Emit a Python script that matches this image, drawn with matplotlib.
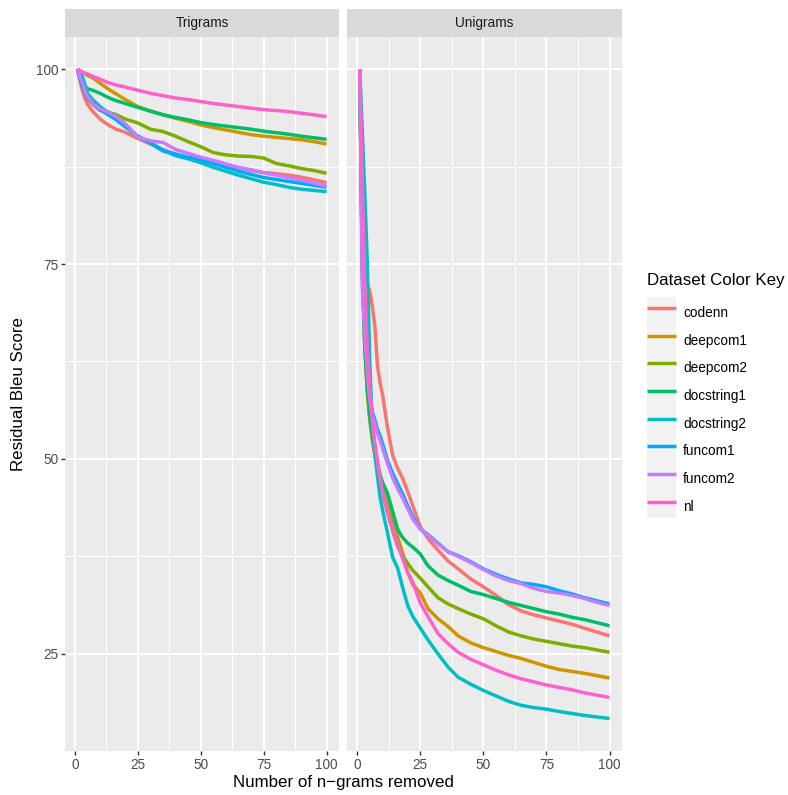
import matplotlib.pyplot as plt
from matplotlib.patches import Rectangle
from matplotlib.ticker import MultipleLocator

plt.rcParams['font.family'] = ['Liberation Sans', 'DejaVu Sans']

# Dataset names and ggplot default hue colours
datasets = ["codenn", "deepcom1", "deepcom2", "docstring1",
            "docstring2", "funcom1", "funcom2", "nl"]
colors = ["#F8766D", "#CD9600", "#7CAE00", "#00BE67",
          "#00BFC4", "#00A9FF", "#C77CFF", "#FF61CC"]

# Trigrams panel
tri_x = [1, 2, 3, 4, 5, 7, 10, 13, 16, 20, 25, 30, 35, 40, 45, 50,
         55, 60, 65, 70, 75, 80, 85, 90, 95, 100]
tri_codenn = [100, 98.5, 97.2, 96.2, 95.5, 94.6, 93.6, 92.9, 92.35, 91.9, 91.1, 90.4, 89.7,
              89.1, 88.6, 88.3, 87.9, 87.6, 87.3, 87.0, 86.75, 86.6, 86.4, 86.15, 85.8, 85.45]
tri_deepcom1 = [100, 99.8, 99.6, 99.4, 99.2, 98.9, 98.2, 97.5, 96.9, 96.1, 95.2, 94.65, 94.15,
                93.7, 93.3, 92.85, 92.5, 92.2, 91.9, 91.6, 91.4, 91.25, 91.1, 90.95, 90.7, 90.4]
tri_deepcom2 = [100, 98.8, 97.8, 97.0, 96.3, 95.5, 94.7, 94.5, 94.2, 93.6, 93.1, 92.3, 92.0,
                91.4, 90.7, 90.05, 89.3, 89.0, 88.85, 88.8, 88.6, 87.9, 87.6, 87.25, 87.0, 86.65]
tri_docstring1 = [100, 99.0, 98.2, 97.6, 97.5, 97.3, 96.9, 96.4, 96.0, 95.6, 95.1, 94.6, 94.15,
                  93.8, 93.5, 93.15, 92.9, 92.7, 92.5, 92.3, 92.05, 91.85, 91.65, 91.4, 91.2, 91.0]
tri_docstring2 = [100, 99.5, 99.0, 98.0, 96.9, 96.1, 95.2, 94.5, 93.8, 92.8, 91.4, 90.6, 89.6,
                  88.9, 88.5, 88.0, 87.4, 86.9, 86.4, 85.95, 85.5, 85.2, 84.85, 84.6, 84.45, 84.3]
tri_funcom1 = [100, 98.8, 97.8, 97.0, 96.3, 95.6, 94.8, 94.2, 93.6, 92.6, 91.4, 90.5, 89.5,
               89.1, 88.7, 88.4, 87.9, 87.4, 86.9, 86.5, 86.1, 85.85, 85.6, 85.35, 85.1, 84.85]
tri_funcom2 = [100, 99.0, 98.2, 97.2, 96.5, 95.6, 94.9, 94.5, 94.0, 93.0, 91.3, 90.8, 90.6,
               89.7, 89.2, 88.7, 88.3, 87.85, 87.4, 87.1, 86.7, 86.4, 86.1, 85.75, 85.4, 85.0]
tri_nl = [100, 99.8, 99.6, 99.5, 99.4, 99.1, 98.7, 98.3, 98.0, 97.7, 97.3, 96.9, 96.6,
          96.3, 96.1, 95.85, 95.6, 95.4, 95.2, 95.0, 94.8, 94.7, 94.55, 94.35, 94.15, 93.9]

# Unigrams panel
uni_x = [1, 2, 3, 4, 5, 6, 7, 8, 9, 10, 12, 14, 16, 18, 20, 22, 25, 28, 32, 36, 40,
         45, 50, 55, 60, 65, 70, 75, 80, 85, 90, 95, 100]
uni_codenn = [100, 78, 73.5, 72.3, 71.5, 69.5, 67, 62, 59.8, 58.3, 54, 50.5, 48.8, 47.5, 45.8,
              44, 41.3, 39.8, 38.3, 36.9, 35.9, 34.6, 33.6, 32.5, 31.3, 30.5, 30.0, 29.6,
              29.2, 28.8, 28.3, 27.8, 27.3]
uni_deepcom1 = [100, 75, 65, 59, 55, 52.5, 50.5, 49, 47.7, 46.5, 45.0, 42.3, 40.0, 37.9, 35.5,
                33.9, 32.8, 30.8, 29.5, 28.5, 27.3, 26.4, 25.8, 25.3, 24.8, 24.4, 23.9, 23.4,
                23.0, 22.75, 22.5, 22.2, 21.9]
uni_deepcom2 = [100, 74, 64, 58.5, 55, 52.5, 50.5, 48.8, 47.2, 45.8, 43.2, 40.8, 38.8, 37.6,
                36.6, 35.7, 34.7, 33.6, 32.2, 31.4, 30.8, 30.1, 29.5, 28.6, 27.8, 27.3, 26.9,
                26.6, 26.3, 26.0, 25.8, 25.5, 25.2]
uni_docstring1 = [100, 74, 64.5, 59, 55.5, 53, 51, 49.5, 48, 47, 45.6, 43.3, 41.0, 39.9, 39.2,
                  38.7, 37.8, 36.3, 35.1, 34.4, 33.8, 33.0, 32.6, 32.1, 31.6, 31.2, 30.8, 30.4,
                  30.1, 29.7, 29.4, 29.0, 28.6]
uni_docstring2 = [100, 92, 84, 75, 62, 54, 50.5, 47.8, 45.2, 43.5, 40.5, 37.4, 36.0, 33.5, 31.2,
                  29.8, 28.3, 26.8, 25.0, 23.3, 22.0, 21.1, 20.3, 19.6, 18.9, 18.4, 18.1, 17.9,
                  17.6, 17.35, 17.1, 16.9, 16.7]
uni_funcom1 = [100, 76, 68, 62, 58, 56, 55, 53.8, 53, 52, 49.8, 48.2, 46.8, 45.5, 44.0, 42.6,
               41.0, 40.3, 39.2, 38.1, 37.6, 36.8, 35.9, 35.2, 34.6, 34.1, 33.9, 33.6, 33.1,
               32.7, 32.2, 31.8, 31.4]
uni_funcom2 = [100, 72, 66, 61, 57.5, 55.5, 54.5, 53.3, 52.4, 51.4, 49.4, 47.6, 46.2, 45.0,
               43.6, 42.3, 41.0, 40.2, 39.1, 38.1, 37.5, 36.7, 35.8, 35.0, 34.4, 34.0, 33.4,
               33.0, 32.8, 32.5, 32.1, 31.6, 31.2]
uni_nl = [100, 85, 72, 64, 59, 55, 52, 49.8, 47.6, 45.8, 43.1, 41.0, 39.0, 37.2, 35.4, 34.2,
          31.5, 29.8, 27.6, 26.3, 25.2, 24.3, 23.6, 22.9, 22.3, 21.8, 21.4, 21.0, 20.7, 20.4,
          20.0, 19.7, 19.4]

tri_series = [tri_codenn, tri_deepcom1, tri_deepcom2, tri_docstring1,
              tri_docstring2, tri_funcom1, tri_funcom2, tri_nl]
uni_series = [uni_codenn, uni_deepcom1, uni_deepcom2, uni_docstring1,
              uni_docstring2, uni_funcom1, uni_funcom2, uni_nl]

# ggplot-like shared limits with 5% expansion
all_y = [v for s in tri_series + uni_series for v in s]
y_lo, y_hi = min(all_y), max(all_y)
y_pad = 0.05 * (y_hi - y_lo)
x_lo, x_hi = 1, 100
x_pad = 0.05 * (x_hi - x_lo)

W, H = 788, 795
fig = plt.figure(figsize=(W / 100, H / 100), dpi=100)


def px_box(left, top, right, bottom):
    return [left / W, 1 - bottom / H, (right - left) / W, (bottom - top) / H]


panels = [("Trigrams", tri_x, tri_series, 65, 339),
          ("Unigrams", uni_x, uni_series, 347.3, 622)]

for i, (name, xs, series, left, right) in enumerate(panels):
    ax = fig.add_axes(px_box(left, 36.7, right, 751))
    ax.set_facecolor("#EBEBEB")
    for s in ax.spines.values():
        s.set_visible(False)
    for vals, col, lab in zip(series, colors, datasets):
        ax.plot(xs, vals, color=col, lw=2.5, label=lab, solid_capstyle="butt")
    ax.set_xlim(x_lo - x_pad, x_hi + x_pad)
    ax.set_ylim(y_lo - y_pad, y_hi + y_pad)
    ax.xaxis.set_major_locator(MultipleLocator(25))
    ax.xaxis.set_minor_locator(MultipleLocator(12.5))
    ax.yaxis.set_major_locator(MultipleLocator(25))
    ax.yaxis.set_minor_locator(MultipleLocator(12.5))
    ax.grid(which="major", color="white", lw=1.5)
    ax.grid(which="minor", color="white", lw=0.75)
    ax.set_axisbelow(True)
    ax.tick_params(which="major", direction="out", length=3, width=1.0,
                   color="#333333", labelcolor="#4D4D4D", labelsize=9.8, pad=2)
    ax.tick_params(which="minor", length=0)
    if i == 1:
        ax.tick_params(axis="y", which="major", length=0, labelleft=False)
        handles = ax.get_lines()

    # facet strip
    strip = fig.add_axes(px_box(left, 9, right, 36.7))
    strip.set_facecolor("#D9D9D9")
    strip.set_xticks([])
    strip.set_yticks([])
    for s in strip.spines.values():
        s.set_visible(False)
    strip.text(0.5, 0.5, name, ha="center", va="center", fontsize=9.8, color="#1A1A1A")

fig.text(343.5 / W, 1 - 782 / H, "Number of n\u2212grams removed",
         ha="center", va="center", fontsize=12.2, color="black")
fig.text(19 / W, 1 - 394 / H, "Residual Bleu Score", rotation=90,
         ha="center", va="center", fontsize=12.2, color="black")

# legend: title as its own text, grey key column behind the handles
fig.text(647 / W, 1 - 281 / H, "Dataset Color Key", ha="left", va="center",
         fontsize=12.2, color="black")
fig.patches.append(Rectangle((647 / W, 1 - 518 / H), 28.5 / W, 221 / H,
                             transform=fig.transFigure, facecolor="#F2F2F2",
                             edgecolor="none", zorder=0))
fig.legend(handles, datasets, loc="upper left", bbox_to_anchor=(647 / W, 1 - 299 / H),
           frameon=False, fontsize=9.8,
           handlelength=2.1, handleheight=2.75, labelspacing=0, handletextpad=0.55,
           borderpad=0, borderaxespad=0)

fig.savefig("out.png", dpi=100)
